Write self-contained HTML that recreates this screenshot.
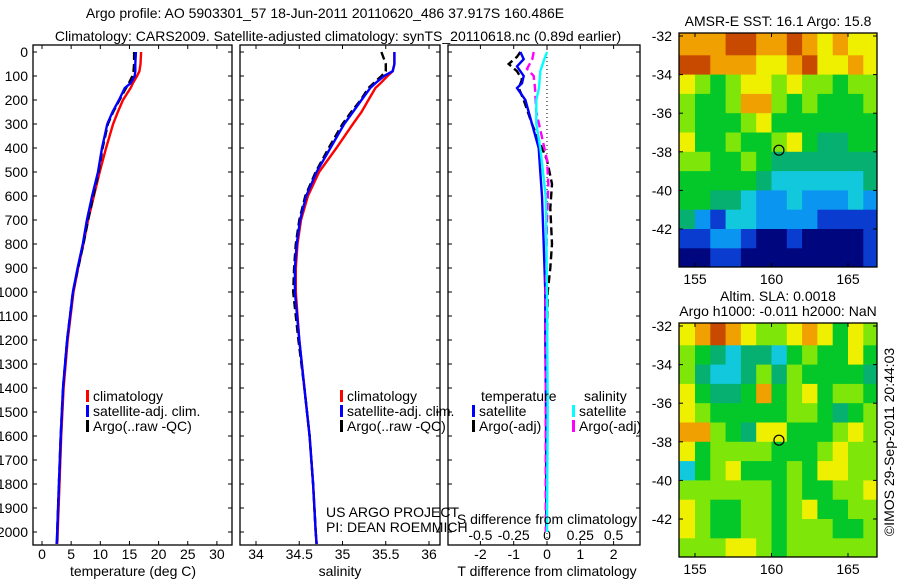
<!DOCTYPE html>
<html><head><meta charset="utf-8"><style>
body{margin:0;background:#fff}
svg{display:block;font-family:"Liberation Sans",sans-serif}
text{font-size:14px;fill:#000}
</style></head><body>
<svg id="s" width="900" height="580" viewBox="0 0 900 580">
</svg>
<script>
// ---- data ----
const depths = [0,50,80,100,130,150,200,250,300,400,500,600,700,800,900,1000,1200,1400,1600,1800,2000,2050];
const climT = [17.0,16.9,16.7,16.3,15.6,15.2,13.9,13.0,12.2,11.0,9.9,8.9,7.9,7.1,6.2,5.4,4.4,3.7,3.3,3.0,2.7,2.6];
const satT  = [16.1,16.0,16.0,15.9,15.2,14.2,13.2,12.1,11.2,10.3,9.6,8.6,7.7,7.0,6.1,5.3,4.3,3.6,3.2,2.9,2.6,2.5];
const argoT = [15.8,15.8,15.7,15.5,14.9,14.4,13.3,12.2,11.3,10.4,9.7,8.8,7.9,7.1,6.2,5.3,4.3,3.6,3.2,2.9,2.6,2.6];
const climS = [35.6,35.6,35.58,35.52,35.44,35.38,35.3,35.22,35.12,34.93,34.73,34.6,34.52,34.48,34.46,34.46,34.5,34.56,34.62,34.66,34.69,34.7];
const satS  = [35.6,35.6,35.58,35.48,35.38,35.32,35.22,35.12,35.02,34.86,34.7,34.58,34.51,34.47,34.45,34.45,34.5,34.56,34.62,34.66,34.69,34.7];
const argoS = [35.45,35.5,35.5,35.45,35.36,35.3,35.21,35.1,35.0,34.84,34.69,34.57,34.5,34.46,34.44,34.43,34.49,34.56,34.62,34.66,34.69,34.7];
const satTdDepth = [0,30,60,100,130,150,200,250,300,400,500,600,800,1000,1200,1500,2000];
const satTd = [-0.8,-0.7,-0.9,-0.7,-0.75,-0.9,-0.65,-0.55,-0.45,-0.25,-0.2,-0.15,-0.1,-0.05,-0.05,-0.03,-0.02];
const argoTdDepth = [0,20,50,80,115,150,200,300,400,450,550,650,800,900,1000,1200,1500,2000];
const argoTd = [-0.8,-0.9,-1.15,-0.9,-0.75,-0.85,-0.7,-0.45,-0.15,0,0.15,0.1,0.15,0.1,0.02,0,0,-0.02];
const satSdDepth = [0,30,80,150,200,300,400,500,600,1000,1500,2000];
const satSd = [0,-0.02,-0.05,-0.06,-0.08,-0.08,-0.05,-0.03,-0.01,0,0.005,0];
const argoSdDepth = [0,30,70,100,150,250,350,450,550,700,1000,1500,2000];
const argoSd = [-0.1,-0.11,-0.15,-0.1,-0.09,-0.08,-0.04,0,0.01,0,-0.01,-0.01,-0.01];
const depthTicks = [0,100,200,300,400,500,600,700,800,900,1000,1100,1200,1300,1400,1500,1600,1700,1800,1900,2000];
const tempTicks = [0,5,10,15,20,25,30];
const salTicks = [34,34.5,35,35.5,36];
const tdTicks = [-2,-1,0,1,2];
const sdTicks = ["-0.5","-0.25","0","0.25","0.5"];
const latTicks = [-32,-34,-36,-38,-40,-42];
const lonTicks = [155,160,165];
const sstGrid = [
"8889988987877","9988877897787","7656776766566","6556886565556","6555675555555","7556556754455",
"6655654444444","5555543333334","5544322322232","4213322221111","1122100100001","0011000000001"];
const slaGrid = [
"7898766787576","6543443565575","6433464655554","7544585675665","7655555665456","8865477555676",
"7566665556766","3567555657766","6666665655667","7655665675566","7655665666556","6667765666666"];
const argoLon = 160.486, argoLat = -37.917;
const palette = ["#00067e","#0a3cd0","#0a96f0","#11c8dc","#06b070","#04c82a","#7ee608","#eef000","#f0a000","#c84a00"];

const NS="http://www.w3.org/2000/svg", svg=document.getElementById('s');
function el(t,a,p){const e=document.createElementNS(NS,t);for(const k in a)e.setAttribute(k,a[k]);(p||svg).appendChild(e);return e;}
function txt(x,y,s,anchor,p){const e=el('text',{x:x,y:y,'text-anchor':anchor||'middle'},p);e.textContent=s;return e;}
function named(e,n){return e;}

const Y0=52, YS=0.24; const yD=d=>Y0+d*YS;
const xT=v=>42+5.83*v, xS=v=>256+86.5*(v-34), xTd=v=>547+33.3*v, xSd=v=>547+133.2*v;
const panels=[{x:33,w:199,n:'temperature'},{x:240,w:200,n:'salinity'},{x:448,w:192,n:'difference'}];
const PT=45, PB=545;

panels.forEach((p,i)=>{
  const g=el('g',{});
  
  
  el('rect',{x:p.x,y:PT,width:p.w,height:PB-PT,fill:'none',stroke:'#000','stroke-width':1.3},g);
  depthTicks.forEach(d=>{
    el('line',{x1:p.x,x2:p.x+4,y1:yD(d),y2:yD(d),stroke:'#000'},g);
    el('line',{x1:p.x+p.w-4,x2:p.x+p.w,y1:yD(d),y2:yD(d),stroke:'#000'},g);
    if(i===0){const t=txt(28,yD(d)+5,String(d),'end',g);
      
      }
  });
});
function xticks(vals,fx,labels,ly){vals.forEach((v,i)=>{const x=fx(v);
  el('line',{x1:x,x2:x,y1:PB,y2:PB-4,stroke:'#000'});el('line',{x1:x,x2:x,y1:PT,y2:PT+4,stroke:'#000'});
  if(ly){const t=txt(x,ly,labels[i]);
  
  }});}
xticks(tempTicks,xT,tempTicks.map(String),559);
xticks(salTicks,xS,salTicks.map(String),559);
xticks(tdTicks,xTd,tdTicks.map(String),559);
sdTicks.forEach(s=>{const t=txt(xSd(parseFloat(s)),540,s);
  
  });
el('line',{x1:547,x2:547,y1:PT,y2:PB,stroke:'#000','stroke-dasharray':'1,3'});

function line(ds,vs,fx,color,name,dash){
  const pts=ds.map((d,i)=>fx(vs[i]).toFixed(1)+','+yD(d).toFixed(1)).join(' ');
  const e=el('polyline',{points:pts,fill:'none',stroke:color,'stroke-width':2.4});
  if(dash)e.setAttribute('stroke-dasharray',dash);
  
  
}
line(depths,climT,xT,'#ff0000','temp-climatology-line');
line(depths,argoT,xT,'#000','temp-argo-line','8,4');
line(depths,satT,xT,'#0000ff','temp-satellite-line');
line(depths,climS,xS,'#ff0000','sal-climatology-line');
line(depths,argoS,xS,'#000','sal-argo-line','8,4');
line(depths,satS,xS,'#0000ff','sal-satellite-line');
line(argoTdDepth,argoTd,xTd,'#000','tdiff-argo-line','8,4');
line(satTdDepth,satTd,xTd,'#0000ff','tdiff-satellite-line');
line(argoSdDepth,argoSd,xSd,'#ff00ff','sdiff-argo-line','8,4');
line(satSdDepth,satSd,xSd,'#00ffff','sdiff-satellite-line');

function legend(x,y,color,label){
  el('rect',{x:x,y:y-11,width:3,height:12,fill:color});
  const t=txt(x+7,y,label,'start');
  
  
}
[86,340].forEach(x=>{legend(x,401,'#ff0000','climatology');legend(x,416,'#0000ff','satellite-adj. clim.');legend(x,431,'#000','Argo(..raw -QC)');});
named(txt(481,401,'temperature','start'),'legend-temperature-header');
named(txt(584,401,'salinity','start'),'legend-salinity-header');
legend(472,416,'#0000ff','satellite');legend(472,431,'#000','Argo(-adj)');
legend(572,416,'#00ffff','satellite');legend(572,431,'#ff00ff','Argo(-adj)');

named(txt(325,18,'Argo profile: AO 5903301_57 18-Jun-2011 20110620_486 37.917S 160.486E'),'title-line1');
named(txt(338,41,'Climatology: CARS2009. Satellite-adjusted climatology: synTS_20110618.nc (0.89d earlier)'),'title-line2');
named(txt(133,576,'temperature (deg C)'),'temperature-x-title');
named(txt(340,576,'salinity'),'salinity-x-title');
named(txt(547,576,'T difference from climatology'),'t-diff-x-title');
named(txt(547,524,'S difference from climatology'),'s-diff-x-title');
named(txt(326,517,'US ARGO PROJECT','start'),'project-credit');
named(txt(326,532,'PI: DEAN ROEMMICH','start'),'pi-credit');
named(txt(778,26,'AMSR-E SST: 16.1 Argo: 15.8'),'sst-map-title');
named(txt(778,301,'Altim. SLA: 0.0018'),'sla-map-title1');
named(txt(778,316,'Argo h1000: -0.011 h2000: NaN'),'sla-map-title2');
const cr=txt(0,0,'©IMOS 29-Sep-2011 20:44:03');
cr.setAttribute('transform','translate(894,442) rotate(-90)');
named(cr,'imos-credit');

function map(grid,top,bottom,name){
  const L=679,R=877;
  const base=top===33?36:326;
  const latY=l=>base+(-32-l)*19.3;
  const lonX=l=>695+(l-155)*15.3;
  const g=el('g',{});
  
  
  grid.forEach((row,r)=>{row.split('').forEach((c,k)=>{
    let x0=lonX(154+k), x1=lonX(155+k);
    if(k===0)x0=L; if(k===row.length-1)x1=R;
    x0=Math.max(L,x0); x1=Math.min(R,x1);
    let y0=latY(-32-r), y1=latY(-33-r);
    if(r===0)y0=top; if(r===grid.length-1)y1=bottom;
    const cell=el('rect',{x:x0,y:y0,width:Math.max(0,x1-x0)+0.5,height:Math.max(0,y1-y0)+0.5,fill:palette[+c]},g);
    
    
  });});
  el('rect',{x:L,y:top,width:R-L,height:bottom-top,fill:'none',stroke:'#000','stroke-width':1.3},g);
  latTicks.forEach(l=>{const y=latY(l);el('line',{x1:L,x2:L+4,y1:y,y2:y,stroke:'#000'},g);el('line',{x1:R-4,x2:R,y1:y,y2:y,stroke:'#000'},g);
    txt(672,y+5,String(l),'end',g);});
  lonTicks.forEach(l=>{const x=lonX(l);el('line',{x1:x,x2:x,y1:bottom,y2:bottom-4,stroke:'#000'},g);el('line',{x1:x,x2:x,y1:top,y2:top+4,stroke:'#000'},g);
    txt(x,bottom+17,String(l),'middle',g);});
  const c=el('circle',{cx:lonX(argoLon),cy:latY(argoLat),r:5,fill:'none',stroke:'#000','stroke-width':1.2},g);
  
  
}
map(sstGrid,33,267,'sst-map');
map(slaGrid,323,557,'sla-map');
</script>
</body></html>
